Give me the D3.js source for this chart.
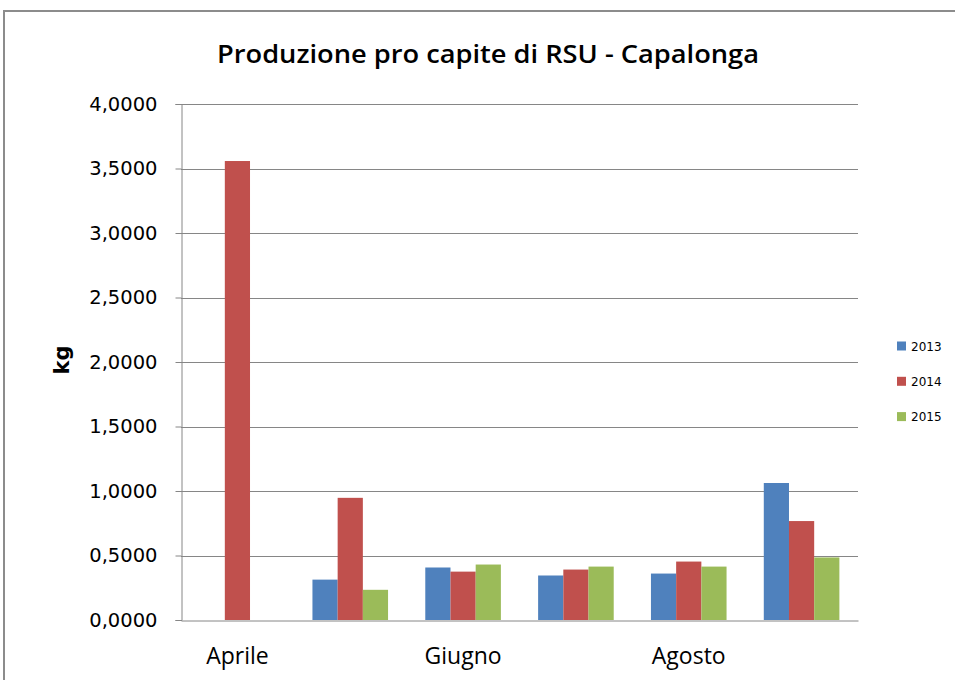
<!DOCTYPE html>
<html>
<head>
<meta charset="utf-8">
<script src="https://d3js.org/d3.v7.min.js"></script>
<style>
  html, body { margin: 0; padding: 0; background: #fff; }
  svg { display: block; }
</style>
</head>
<body>
<svg id="chart" width="955" height="680"></svg>
<script>
const title = "Produzione pro capite di RSU - Capalonga";
const yTitle = "kg";
const categories = ["Aprile", "Maggio", "Giugno", "Luglio", "Agosto", "Settembre"];
const shownCategoryLabels = ["Aprile", "Giugno", "Agosto"];
const seriesNames = ["2013", "2014", "2015"];
const values2013 = [null, 0.313, 0.407, 0.345, 0.360, 1.062];
const values2014 = [3.558, 0.947, 0.375, 0.391, 0.453, 0.767];
const values2015 = [null, 0.234, 0.430, 0.414, 0.414, 0.485];
const yTicks = [0, 0.5, 1, 1.5, 2, 2.5, 3, 3.5, 4];
const colors = ["#4F81BD", "#C0504D", "#9BBB59"];

const seriesValues = [values2013, values2014, values2015];
const svg = d3.select("#chart");

// outer frame
svg.append("rect").attr("x", 4).attr("y", 11).attr("width", 960).attr("height", 680)
  .attr("fill", "none").attr("stroke", "#8c8c8c").attr("stroke-width", 2);

const plot = { left: 181, right: 858, top: 104, bottom: 620 };

const x0 = d3.scaleBand().domain(categories).range([plot.left, plot.right]).paddingInner(0).paddingOuter(0);
const groupWidth = x0.bandwidth() * 0.67;
const x1 = d3.scaleBand().domain(seriesNames).range([0, groupWidth]).padding(0);
const y = d3.scaleLinear().domain([0, 4]).range([plot.bottom, plot.top]);

// gridlines
svg.append("g").selectAll("line").data(yTicks.filter(d => d > 0)).join("line")
  .attr("x1", plot.left).attr("x2", plot.right)
  .attr("y1", d => Math.round(y(d)) + 0.5).attr("y2", d => Math.round(y(d)) + 0.5)
  .attr("stroke", "#868686").attr("stroke-width", 1);

// bars
const gBars = svg.append("g");
categories.forEach((c, i) => {
  seriesNames.forEach((s, j) => {
    const v = seriesValues[j][i];
    if (v == null) return;
    gBars.append("rect")
      .attr("x", x0(c) + (x0.bandwidth() - groupWidth) / 2 + x1(s))
      .attr("width", x1.bandwidth())
      .attr("y", y(v))
      .attr("height", y(0) - y(v))
      .attr("fill", colors[j]);
  });
});

// y axis
const yAxis = d3.axisLeft(y).tickValues(yTicks).tickSize(6).tickPadding(18)
  .tickFormat(d => d3.format(".4f")(d).replace(".", ","));
const gy = svg.append("g").attr("transform", `translate(${plot.left + 0.5},0)`).call(yAxis);
gy.select(".domain").attr("stroke", "#868686");
gy.selectAll(".tick line").attr("stroke", "#868686");
gy.selectAll(".tick text").attr("font-family", "'DejaVu Sans', Verdana, sans-serif")
  .attr("font-size", 19.5).attr("fill", "#000");

// x axis
const xAxis = d3.axisBottom(x0).tickValues(shownCategoryLabels).tickSize(0).tickPadding(27);
const gx = svg.append("g").attr("transform", `translate(0,${plot.bottom + 0.5})`).call(xAxis);
gx.select(".domain").attr("stroke", "#868686");
gx.selectAll(".tick text").attr("font-family", "'Open Sans', sans-serif")
  .attr("font-size", 23).attr("fill", "#000");

// title
svg.append("text").attr("x", 488).attr("y", 63).attr("text-anchor", "middle")
  .attr("font-family", "'Open Sans', sans-serif").attr("font-weight", "600")
  .attr("font-size", 26).attr("textLength", 542).attr("lengthAdjust", "spacingAndGlyphs")
  .attr("fill", "#000").text(title);

// y title
svg.append("text").attr("transform", "translate(69,360) rotate(-90)")
  .attr("text-anchor", "middle").attr("font-family", "'DejaVu Sans', sans-serif")
  .attr("font-weight", "bold").attr("font-size", 21).attr("fill", "#000").text(yTitle);

// legend
const legend = svg.append("g");
seriesNames.forEach((s, j) => {
  const cy = 346 + j * 35.3;
  legend.append("rect").attr("x", 897).attr("y", cy - 4.5).attr("width", 9).attr("height", 9).attr("fill", colors[j]);
  legend.append("text").attr("x", 911).attr("y", cy + 4.5)
    .attr("font-family", "'DejaVu Sans', sans-serif").attr("font-size", 12).attr("fill", "#000").text(s);
});
</script>
</body>
</html>
